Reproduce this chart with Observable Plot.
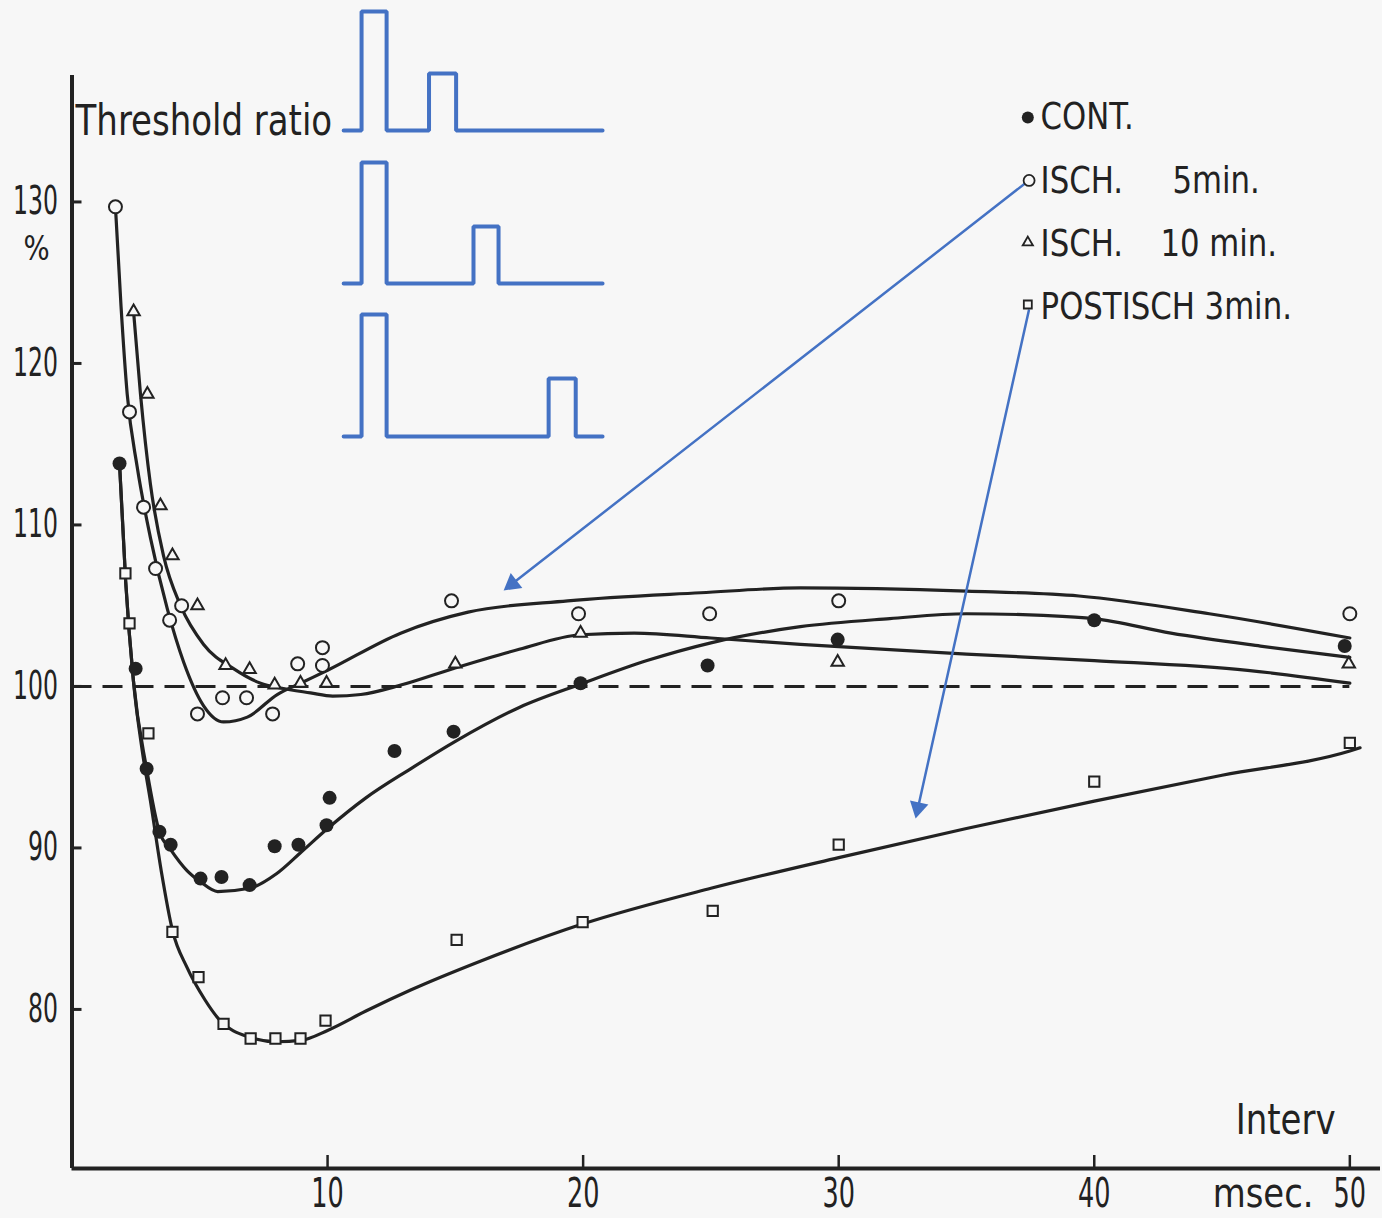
<!DOCTYPE html>
<html><head><meta charset="utf-8">
<script src="https://cdn.jsdelivr.net/npm/d3@7"></script>
<script src="https://cdn.jsdelivr.net/npm/@observablehq/plot@0.6"></script>
<style>
html,body{margin:0;padding:0;background:#f7f7f7;}
#chart svg{display:block;}
</style></head><body><div id="chart"></div>
<script>
// ---- measured points [interval msec, threshold ratio %] ----
const contPts = [[1.86,113.8],[2.49,101.1],[2.92,94.9],[3.42,91.0],[3.86,90.2],[5.03,88.1],[5.85,88.2],[6.95,87.7],[7.93,90.1],[8.86,90.2],[9.96,91.4],[10.08,93.1],[12.62,96.0],[14.93,97.2],[19.9,100.2],[24.87,101.3],[29.96,102.9],[40.0,104.1],[49.8,102.5]];
const isch5Pts = [[1.70,129.7],[2.25,117.0],[2.80,111.1],[3.27,107.3],[3.82,104.1],[4.29,105.0],[4.91,98.3],[5.89,99.3],[6.83,99.3],[7.85,98.3],[8.83,101.4],[9.80,102.4],[9.80,101.3],[14.85,105.3],[19.82,104.5],[24.95,104.5],[30.0,105.3],[50.0,104.5]];
const isch10Pts = [[2.41,123.2],[2.95,118.1],[3.46,111.2],[3.93,108.1],[4.91,105.0],[6.01,101.3],[6.95,101.05],[7.93,100.1],[8.94,100.2],[9.96,100.2],[15.0,101.4],[19.9,103.3],[29.96,101.5],[49.96,101.4]];
const postPts = [[2.09,107.0],[2.25,103.9],[2.99,97.1],[3.93,84.8],[4.95,82.0],[5.93,79.1],[6.99,78.2],[7.96,78.2],[8.94,78.2],[9.92,79.3],[15.05,84.3],[19.98,85.4],[25.07,86.1],[30.0,90.2],[40.0,94.1],[50.0,96.5]];

// ---- hand-fitted curves ----
const contCurve = [[1.86,113.8],[2.1,106.5],[2.4,100.4],[2.92,94.9],[3.42,91.0],[3.86,89.9],[4.5,88.6],[5.03,87.9],[5.7,87.3],[6.95,87.5],[8,88.4],[8.94,89.7],[10,91.2],[11.5,93.1],[13.25,94.9],[15,96.6],[17.5,98.7],[20,100.2],[22.5,101.6],[25,102.7],[28.5,103.7],[32,104.2],[35,104.5],[38,104.4],[40,104.2],[43,103.3],[46.5,102.5],[50,101.8]];
const isch5Curve = [[1.70,129.7],[1.92,123.5],[2.16,118.1],[2.55,113.6],[3.07,109.2],[3.73,104.8],[4.37,101.5],[5.15,98.8],[5.93,97.8],[6.86,98.1],[8.03,99.5],[8.94,100.2],[10,101.0],[12.86,103.3],[15.5,104.6],[19.4,105.3],[24.6,105.8],[28.5,106.1],[35,105.9],[39.4,105.6],[44.5,104.5],[50,103.0]];
const isch10Curve = [[2.41,123.2],[2.68,118.1],[3.07,112.5],[3.58,108.1],[4.25,105.0],[5.15,102.6],[6.32,101.1],[7.38,100.2],[8.16,99.9],[9.33,99.6],[10.2,99.4],[11.3,99.5],[12.9,100.1],[14.9,101.1],[17.5,102.3],[19.9,103.2],[22,103.3],[25,103.0],[28.5,102.6],[35,102.0],[40,101.6],[46,101.0],[50,100.2]];
const postCurve = [[1.86,113.8],[2.1,106.5],[2.4,100.4],[2.75,96.0],[3.07,92.9],[3.5,88.5],[3.93,84.9],[4.5,82.6],[5.2,80.6],[5.8,79.3],[6.9,78.3],[8,78.0],[9,78.1],[10,78.7],[11.5,79.9],[13.25,81.2],[16,83.0],[20,85.3],[25,87.5],[30,89.4],[35,91.2],[40,92.9],[45,94.5],[50,96.0],[50.4,96.2]];

// ---- paired-pulse stimulus sketches (in chart units) ----
const pulse1 = [[10.63,134.43],[11.33,134.43],[11.33,141.80],[12.31,141.80],[12.31,134.43],[13.97,134.43],[13.97,137.96],[15.03,137.96],[15.03,134.43],[20.76,134.43]];
const pulse2 = [[10.63,124.95],[11.33,124.95],[11.33,132.45],[12.31,132.45],[12.31,124.95],[15.71,124.95],[15.71,128.48],[16.69,128.48],[16.69,124.95],[20.76,124.95]];
const pulse3 = [[10.63,115.48],[11.33,115.48],[11.33,123.03],[12.31,123.03],[12.31,115.48],[18.65,115.48],[18.65,119.07],[19.71,119.07],[19.71,115.48],[20.76,115.48]];

// ---- annotation arrows: [tail, tip] ----
const arrowA = [[37.44,131.33],[16.89,105.94]];
const arrowB = [[37.44,123.28],[33.01,91.83]];

// ---- ticks / labels ----
const xTicks = [10,20,30,40,50];
const yTicks = [80,90,100,110,120,130];
const legendNames = ["CONT.","ISCH.","ISCH.","POSTISCH 3min."];
const legendDur = ["","5min.","10 min.",""];

const W=1382,H=1218,mL=71.5,mR=2,mT=75,mB=50;
const xDom=[0,51.2], yDom=[70.15,137.83];
const sx=d3.scaleLinear(xDom,[mL,W-mR]), sy=d3.scaleLinear(yDom,[H-mB,mT]);
const BLUE="#4472C4", INK="#222222", BG="#f7f7f7";
const FONT="'DejaVu Sans Condensed','DejaVu Sans',sans-serif";
// font sizes (also used to pick the horizontal squeeze of each text)
const FS_Y=38.5, FS_X=40, FS_MSEC=40.5, FS_WORD=42, FS_LEG=38, FS_PCT=34;
const squeezeBySize = {[FS_Y]:0.68, [FS_X]:0.71, [FS_MSEC]:0.93, [FS_WORD]:0.9, [FS_LEG]:0.9, [FS_PCT]:0.9};

const headR = 7;
const headOff = 2*Math.sqrt(Math.PI*headR*headR/(3*Math.sqrt(3)));
function arrowParts([tail, tip]){
  const tx=sx(tip[0]), ty=sy(tip[1]), ax=sx(tail[0]), ay=sy(tail[1]);
  const dx=tx-ax, dy=ty-ay, L=Math.hypot(dx,dy), ux=dx/L, uy=dy/L;
  const cx=tx-ux*headOff, cy=ty-uy*headOff;
  return {line:[tail,[sx.invert(cx),sy.invert(cy)]], head:{x:sx.invert(cx),y:sy.invert(cy),rot:Math.atan2(dx,-dy)*180/Math.PI}};
}
const aA=arrowParts(arrowA), aB=arrowParts(arrowB);

const legendTextY=[135.3,131.3,127.4,123.5];
const legendMarkY=[135.23,131.33,127.49,123.65];
const legendRows = legendNames.map((n,i)=>({name:n,dur:legendDur[i],y:legendTextY[i],my:legendMarkY[i],i}));

const curveOpts = {curve:"monotone-x", stroke:INK, strokeWidth:3.2};
const pulseOpts = {stroke:BLUE,strokeWidth:4,strokeLinejoin:"miter"};
const plot = Plot.plot({
  width:W, height:H, marginLeft:mL, marginRight:mR, marginTop:mT, marginBottom:mB,
  x:{domain:xDom}, y:{domain:yDom},
  style:{fontFamily:FONT, background:BG, color:INK},
  marks:[
    Plot.ruleY([100],{x1:0,x2:50,stroke:INK,strokeWidth:3,strokeDasharray:"20,11"}),
    Plot.line(contCurve,curveOpts),
    Plot.line(isch5Curve,curveOpts),
    Plot.line(isch10Curve,curveOpts),
    Plot.line(postCurve,curveOpts),
    Plot.dot(contPts,{x:"0",y:"1",r:7,fill:INK,stroke:"none"}),
    Plot.dot(isch5Pts,{x:"0",y:"1",r:6.5,fill:BG,stroke:INK,strokeWidth:2}),
    Plot.dot(isch10Pts,{x:"0",y:"1",symbol:"triangle",r:4.6,fill:BG,stroke:INK,strokeWidth:2}),
    Plot.dot(postPts,{x:"0",y:"1",symbol:"square",r:5.8,fill:BG,stroke:INK,strokeWidth:2}),
    // axes
    Plot.ruleX([0],{stroke:INK,strokeWidth:4}),
    Plot.ruleY([yDom[0]],{stroke:INK,strokeWidth:4}),
    Plot.axisY({ticks:yTicks,tickSize:0,tickPadding:14,fontSize:FS_Y,label:null}),
    Plot.axisY({ticks:yTicks,tickSize:-10,text:null,strokeWidth:3,label:null}),
    Plot.axisX({ticks:xTicks,tickSize:0,tickPadding:10,fontSize:FS_X,label:null}),
    Plot.axisX({ticks:xTicks,tickSize:-13,text:null,strokeWidth:2.5,label:null}),
    Plot.text(["msec."],{x:48.58,y:yDom[0],dy:26,textAnchor:"end",fontSize:FS_MSEC}),
    Plot.text(["Interv"],{x:49.44,y:73.15,textAnchor:"end",fontSize:FS_WORD}),
    Plot.text(["Threshold ratio"],{x:0.14,y:134.95,textAnchor:"start",fontSize:FS_WORD}),
    Plot.text(["%"],{x:-1.39,y:127.06,textAnchor:"middle",fontSize:FS_PCT}),
    // pulse sketches
    Plot.line(pulse1,pulseOpts),
    Plot.line(pulse2,pulseOpts),
    Plot.line(pulse3,pulseOpts),
    // arrows
    Plot.line(aA.line,{stroke:BLUE,strokeWidth:2.5}),
    Plot.line(aB.line,{stroke:BLUE,strokeWidth:2.5}),
    Plot.dot([aA.head,aB.head],{x:"x",y:"y",rotate:"rot",symbol:"triangle",r:headR,fill:BLUE,stroke:"none"}),
    // legend
    Plot.dot(legendRows.filter(d=>d.i===0),{x:37.4,y:"my",r:6,fill:INK}),
    Plot.dot(legendRows.filter(d=>d.i===1),{x:37.45,y:"my",r:5.5,fill:BG,stroke:INK,strokeWidth:1.8}),
    Plot.dot(legendRows.filter(d=>d.i===2),{x:37.4,y:"my",symbol:"triangle",r:3.8,fill:"none",stroke:INK,strokeWidth:1.8}),
    Plot.dot(legendRows.filter(d=>d.i===3),{x:37.4,y:"my",symbol:"square",r:4.5,fill:"none",stroke:INK,strokeWidth:1.8}),
    Plot.text(legendRows,{x:37.9,y:"y",text:"name",textAnchor:"start",fontSize:FS_LEG}),
    Plot.text(legendRows.filter(d=>d.i===1),{x:43.06,y:"y",text:"dur",textAnchor:"start",fontSize:FS_LEG}),
    Plot.text(legendRows.filter(d=>d.i===2),{x:42.59,y:"y",text:"dur",textAnchor:"start",fontSize:FS_LEG})
  ]
});

// horizontally condense text to imitate the narrow lettering of the original
plot.querySelectorAll("text").forEach(t=>{
  const host=t.closest("[font-size]");
  const fs=host?parseFloat(host.getAttribute("font-size")):NaN;
  const s=squeezeBySize[fs];
  if(!s) return;
  const tr=t.getAttribute("transform");
  if (tr) t.setAttribute("transform", tr+` scale(${s},1)`);
  else {
    const x=+t.getAttribute("x")||0, y=+t.getAttribute("y")||0;
    t.removeAttribute("x"); t.removeAttribute("y");
    t.setAttribute("transform",`translate(${x},${y}) scale(${s},1)`);
  }
});
document.getElementById("chart").appendChild(plot);
</script></body></html>
